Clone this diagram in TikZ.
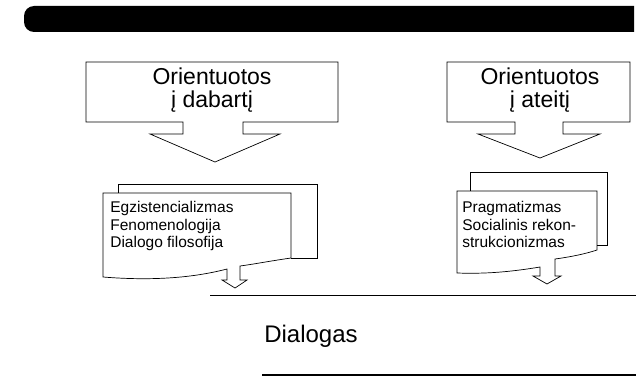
\documentclass[tikz,border=0pt]{standalone}
\usepackage{fontspec}
\setmainfont{Liberation Sans}
\usetikzlibrary{positioning}
\tikzset{bigtext/.style={align=center,font=\fontsize{23}{23}\selectfont,inner sep=0pt},
  smalltext/.style={align=left,font=\fontsize{15.5}{17.5}\selectfont,inner sep=0pt,anchor=north west}}
\begin{document}
\begin{tikzpicture}[x=1pt,y=-1pt,line width=0.7pt]
\useasboundingbox (0,0) rectangle (636,377);
\fill[black] (634,6) -- (634,32) [rounded corners=10pt] -- (24,32) -- (24,6) [sharp corners] -- (634,6) -- cycle;
\draw (86,62) -- (338,62) -- (338,122) -- (243,122) -- (243,134) -- (280,134) -- (215,162) -- (150,134) -- (183,134) -- (183,122) -- (86,122) -- cycle;
\draw (447,62) -- (630,62) -- (630,122) -- (563,122) -- (563,134) -- (600,134) -- (540,158) -- (478,134) -- (515,134) -- (515,122) -- (447,122) -- cycle;
\node[bigtext] (dabartis) at (212,90) {Orientuotos\\į dabartį};
\node[bigtext] (ateitis) at (540,90) {Orientuotos\\į ateitį};
\draw (118,193) -- (118,184) -- (317,184) -- (317,258) -- (291,258);
\draw (103,193) -- (291,193) -- (291,258) .. controls (270,261) and (255,264) .. (240,266) -- (240,280) -- (247,280) -- (235,288) -- (222,280) -- (227,280) -- (227,269) .. controls (185,280) and (140,280) .. (103,277) -- cycle;
\draw (470,191) -- (470,172) -- (607,172) -- (607,245) -- (597,245);
\draw (457,191) -- (597,191) -- (597,250) .. controls (585,254) and (570,257) .. (555,259) -- (555,276) -- (561,276) -- (547,284) -- (533,276) -- (540,276) -- (540,267) .. controls (510,272) and (485,274) .. (457,273) -- cycle;
\node[smalltext] (dabartlist) at (110,201) {Egzistencializmas\\Fenomenologija\\Dialogo filosofija};
\node[smalltext] (ateitlist) at (462,201) {Pragmatizmas\\Socialinis rekon-\\strukcionizmas};
\draw (210,295) -- (636,295);
\node[font=\fontsize{24}{26}\selectfont,inner sep=0pt] (dialogas) at (311,336) {Dialogas};
\draw[line width=1.2pt] (262,375) -- (636,375);
\end{tikzpicture}
\end{document}
